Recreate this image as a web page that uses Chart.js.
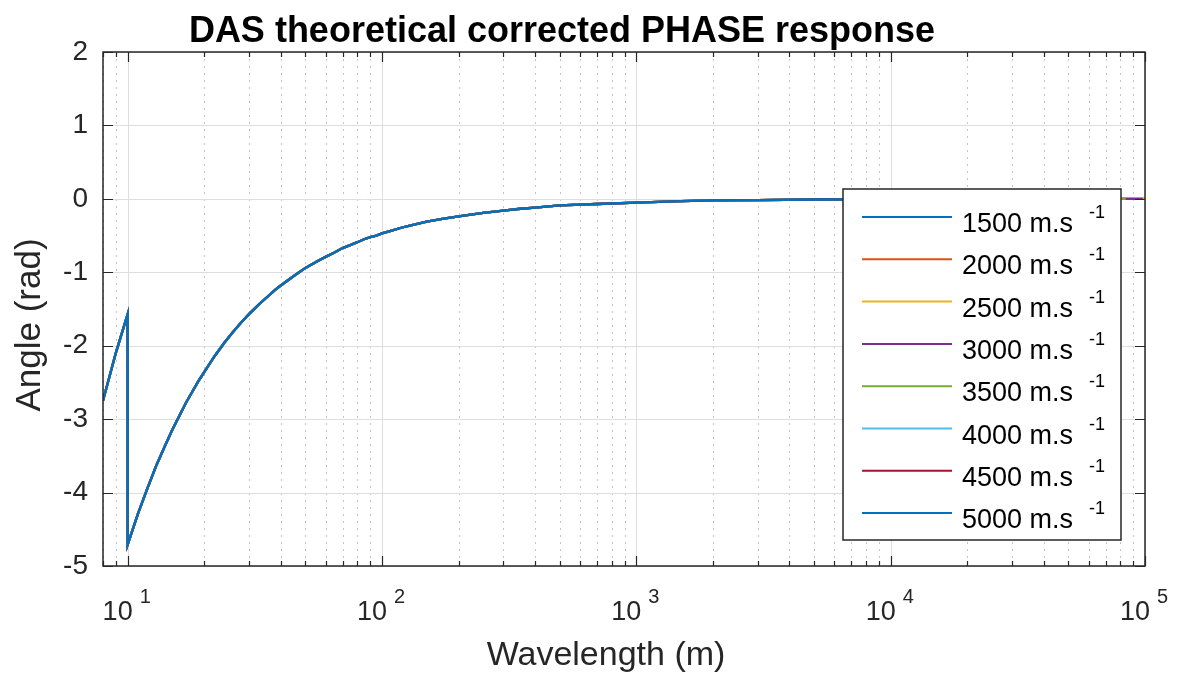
<!DOCTYPE html>
<html><head><meta charset="utf-8">
<script src="https://cdn.jsdelivr.net/npm/chart.js@4"></script>
<style>html,body{margin:0;padding:0;background:#fff}#wrap{width:1184px;height:677px;position:relative}</style>
</head><body><div id="wrap"><canvas id="c" width="1184" height="677"></canvas></div>
<script>
// ---- data ----
const chartTitle = 'DAS theoretical corrected PHASE response';
const xTitle = 'Wavelength (m)';
const yTitle = 'Angle (rad)';
const velocities = [1500, 2000, 2500, 3000, 3500, 4000, 4500, 5000];
const seriesColors = ['#0072BD', '#D95319', '#EDB120', '#7E2F8E', '#77AC30', '#4DBEEE', '#A2142F', '#0072BD'];
const seriesEnd = [100000, 100000, 100000, 98000, 84000, 70000, 60000, 50000];
const wavelength = [8, 9, 10, 10, 11, 12, 13, 14, 15, 16, 17, 18, 19, 20, 22, 24, 26, 28, 30, 33, 35, 38, 40, 45, 50, 55, 60, 65, 70, 75, 80, 85, 90, 95, 100,
  110, 120, 130, 150, 175, 200, 250, 300, 350, 400, 500, 700, 1000, 1500, 2000, 3000, 5000, 10000, 20000, 50000, 60000, 70000, 84000, 98000, 100000];
const phase = [-2.75, -2.09, -1.57, -4.71, -4.28, -3.93, -3.62, -3.37, -3.14, -2.95, -2.77, -2.62, -2.48, -2.36, -2.14, -1.96, -1.81, -1.68, -1.57, -1.43, -1.35, -1.24, -1.18, -1.05, -0.94, -0.86, -0.79, -0.73, -0.67, -0.63, -0.59, -0.55, -0.52, -0.50, -0.47,
  -0.43, -0.39, -0.36, -0.31, -0.27, -0.24, -0.19, -0.16, -0.135, -0.12, -0.09, -0.07, -0.05, -0.03, -0.02, -0.016, -0.009, -0.005, -0.002, -0.001, 0, 0, 0, 0, 0];
const xExponents = [1, 2, 3, 4, 5];
const yTicks = [-5, -4, -3, -2, -1, 0, 1, 2];
const xMin = 8, xMax = 100000, yMin = -5, yMax = 2;

const TXT = '#262626';
const FONT = '"Liberation Sans", Arial, Helvetica, sans-serif';

const datasets = velocities.map((v, i) => ({
  label: v + ' m.s-1',
  data: wavelength.map((w, k) => ({x: w, y: phase[k]})).filter(p => p.x <= seriesEnd[i]),
  borderColor: seriesColors[i],
  backgroundColor: seriesColors[i],
  borderWidth: 2.3,
  pointRadius: 0,
  tension: 0,
  fill: false,
  order: velocities.length - 1 - i
}));

const decor = {
  id: 'decor',
  beforeDatasetsDraw(chart) {
    const {ctx, chartArea: a, scales: {x, y}} = chart;
    ctx.save();
    ctx.strokeStyle = '#c4c4c4'; ctx.lineWidth = 1; ctx.setLineDash([2, 5]);
    for (let e = 0; e <= 5; e++) for (let m = 2; m <= 9; m++) {
      const v = m * Math.pow(10, e);
      if (v < xMin || v > xMax) continue;
      const px = Math.round(x.getPixelForValue(v)) + 0.5;
      ctx.beginPath(); ctx.moveTo(px, a.top); ctx.lineTo(px, a.bottom); ctx.stroke();
    }
    ctx.setLineDash([]);
    ctx.strokeStyle = '#dedede';
    xExponents.forEach(e => {
      const px = Math.round(x.getPixelForValue(Math.pow(10, e))) + 0.5;
      ctx.beginPath(); ctx.moveTo(px, a.top); ctx.lineTo(px, a.bottom); ctx.stroke();
    });
    yTicks.forEach(t => {
      const py = Math.round(y.getPixelForValue(t)) + 0.5;
      ctx.beginPath(); ctx.moveTo(a.left, py); ctx.lineTo(a.right, py); ctx.stroke();
    });
    ctx.restore();
  },
  afterDatasetsDraw(chart) {
    const {ctx, chartArea: a, scales: {x, y}} = chart;
    ctx.save();
    ctx.strokeStyle = TXT; ctx.lineWidth = 1.5;
    ctx.strokeRect(a.left, a.top, a.right - a.left, a.bottom - a.top);
    ctx.lineWidth = 1.2;
    for (let e = 0; e <= 5; e++) for (let m = 1; m <= 9; m++) {
      const v = m * Math.pow(10, e);
      if (v < xMin || v > xMax) continue;
      const px = Math.round(x.getPixelForValue(v)) + 0.5;
      const len = m === 1 ? 10 : 5;
      ctx.beginPath();
      ctx.moveTo(px, a.bottom); ctx.lineTo(px, a.bottom - len);
      ctx.moveTo(px, a.top); ctx.lineTo(px, a.top + len);
      ctx.stroke();
    }
    yTicks.forEach(t => {
      const py = Math.round(y.getPixelForValue(t)) + 0.5;
      ctx.beginPath();
      ctx.moveTo(a.left, py); ctx.lineTo(a.left + 10, py);
      ctx.moveTo(a.right, py); ctx.lineTo(a.right - 10, py);
      ctx.stroke();
    });
    ctx.fillStyle = TXT;
    ctx.font = '28px ' + FONT; ctx.textAlign = 'right'; ctx.textBaseline = 'middle';
    yTicks.forEach(t => ctx.fillText(String(t), 88, y.getPixelForValue(t)));
    xExponents.forEach(e => {
      const px = x.getPixelForValue(Math.pow(10, e));
      ctx.textBaseline = 'alphabetic';
      ctx.font = '27px ' + FONT; ctx.textAlign = 'right';
      ctx.fillText('10', px + 5, 620);
      ctx.font = '20px ' + FONT; ctx.textAlign = 'left';
      ctx.fillText(String(e), px + 12, 603);
    });
    ctx.font = 'bold 36px ' + FONT; ctx.textAlign = 'center'; ctx.textBaseline = 'alphabetic';
    ctx.fillStyle = '#000';
    ctx.fillText(chartTitle, 562, 42);
    ctx.fillStyle = TXT;
    ctx.font = '34px ' + FONT;
    ctx.fillText(xTitle, 606, 665);
    ctx.save();
    ctx.translate(30, 325); ctx.rotate(-Math.PI / 2);
    ctx.textBaseline = 'middle';
    ctx.font = '35px ' + FONT;
    ctx.fillText(yTitle, 0, 0);
    ctx.restore();
    const lx = 843, ly = 189, lw = 278, lh = 351;
    ctx.fillStyle = '#fff'; ctx.fillRect(lx, ly, lw, lh);
    ctx.strokeStyle = TXT; ctx.lineWidth = 1.5; ctx.strokeRect(lx, ly, lw, lh);
    velocities.forEach((v, i) => {
      const yy = 217 + i * 42.3;
      ctx.strokeStyle = seriesColors[i]; ctx.lineWidth = 2;
      ctx.beginPath(); ctx.moveTo(862, yy); ctx.lineTo(952, yy); ctx.stroke();
      ctx.fillStyle = '#000'; ctx.textAlign = 'left'; ctx.textBaseline = 'alphabetic';
      ctx.font = '27px ' + FONT;
      ctx.fillText(v + ' m.s', 962, yy + 15);
      ctx.font = '18px ' + FONT;
      ctx.fillText('-1', 1089, yy + 1);
    });
    ctx.restore();
  }
};

new Chart(document.getElementById('c'), {
  type: 'line',
  data: {datasets},
  options: {
    responsive: false,
    animation: false,
    layout: {padding: {left: 103, top: 52, right: 39, bottom: 111}},
    plugins: {legend: {display: false}, title: {display: false}, tooltip: {enabled: false}},
    scales: {
      x: {type: 'logarithmic', min: xMin, max: xMax, display: false},
      y: {type: 'linear', min: yMin, max: yMax, display: false}
    }
  },
  plugins: [decor]
});
</script>
</body></html>
